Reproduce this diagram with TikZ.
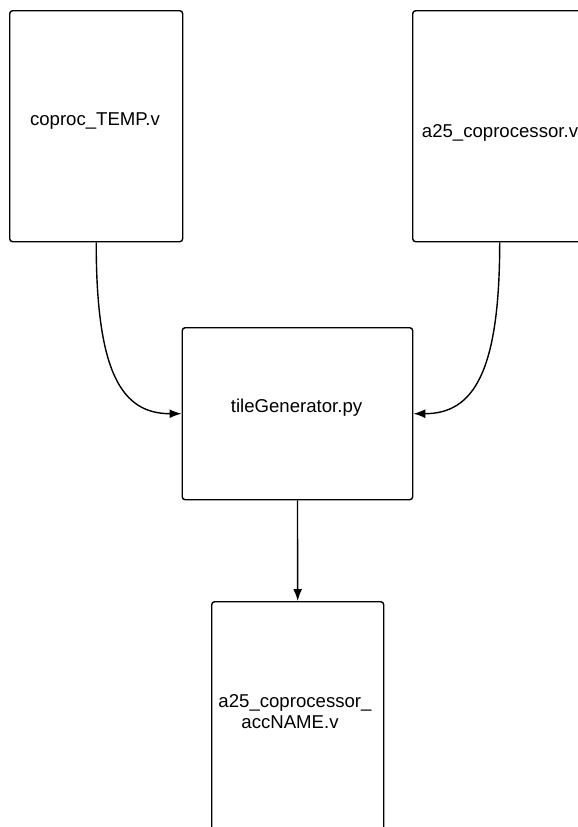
\documentclass[tikz,border=0pt]{standalone}
\usepackage{fontspec}
\setmainfont{Liberation Sans}
\usetikzlibrary{arrows.meta}
\begin{document}
\begin{tikzpicture}[x=1pt,y=-1pt,
  filebox/.style={draw=black, line width=1.4pt, rounded corners=3pt, fill=white,
    inner sep=0pt, anchor=north west},
  lbl/.style={inner sep=0pt, anchor=base, font=\fontsize{18.6}{21}\selectfont},
  conn/.style={draw=black, line width=1.4pt, -{Latex[length=12pt,width=9pt]}}
]
\clip (0,0) rectangle (578,827);
\fill[white] (0,0) rectangle (578,827);

% file boxes
\node[filebox, minimum width=173pt, minimum height=231pt] (temp) at (9,10) {};
\node[filebox, minimum width=174pt, minimum height=231pt] (copro) at (412,10) {};
\node[filebox, minimum width=230.5pt, minimum height=172pt] (gen) at (181.5,327) {};
\node[filebox, minimum width=172pt, minimum height=231pt] (out) at (211,601) {};

% file names
\node[lbl] (tempname) at (95,125) {coproc\_TEMP.v};
\node[lbl] (coproname) at (500,137) {a25\_coprocessor.v};
\node[lbl] (genname) at (296.5,412) {tileGenerator.py};
\node[lbl] (outnameA) at (295,707) {a25\_coprocessor\_};
\node[lbl] (outnameB) at (290,728) {accNAME.v};

% connectors
\draw[conn] (temp.south) .. controls +(0,130) and +(-60,0) .. (gen.west);
\draw[conn] (copro.south) .. controls +(0,130) and +(60,0) .. (gen.east);
\draw[conn] (gen.south) -- (out.north);
\end{tikzpicture}
\end{document}
